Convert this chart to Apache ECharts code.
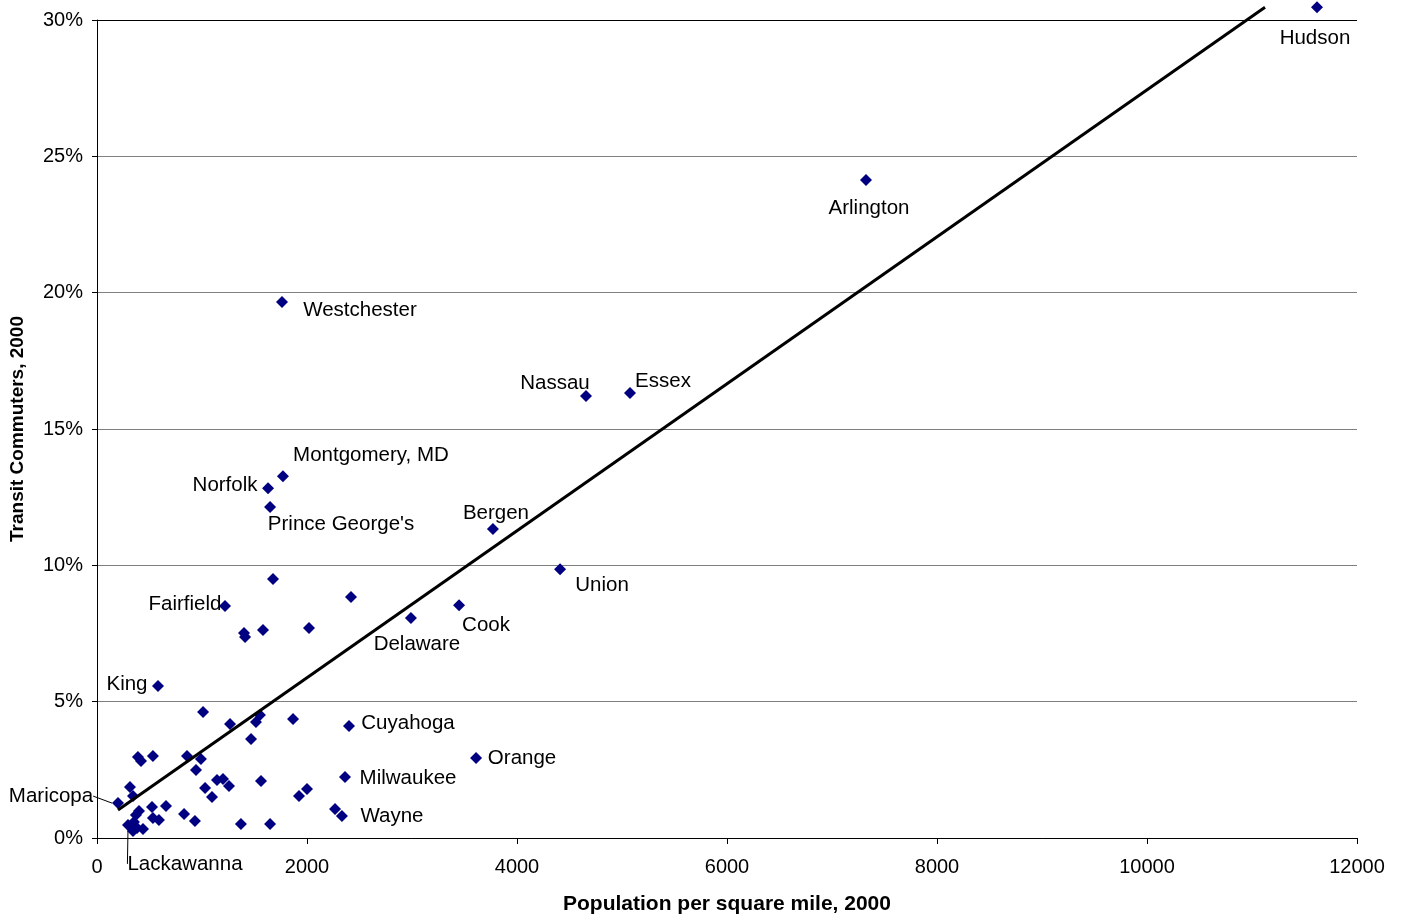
<!DOCTYPE html>
<html>
<head>
<meta charset="utf-8">
<script src="https://cdn.jsdelivr.net/npm/echarts@6/dist/echarts.min.js"></script>
<style>
html,body{margin:0;padding:0;background:#fff;}
#chart{width:1408px;height:922px;}
</style>
</head>
<body>
<div id="chart"></div>
<script>
// County names ('' = unlabeled point)
const names = [
  'Hudson','Arlington','Westchester','Nassau','Essex','Montgomery, MD','Norfolk',"Prince George's",
  'Bergen','Union','Fairfield','Cook','Delaware','King','Cuyahoga','Orange','Milwaukee','Wayne',
  'Maricopa','Lackawanna',
  '','','','','','','','','','','','','','','','','','','','','','','','','','','','','','','','','','','','','','','','','','',''
];
// Population per square mile, 2000
const density = [
  11619,7324,1762,4657,5076,1771,1629,1648,
  3771,4410,1219,3448,2990,581,2400,3610,2362,2333,
  200,295,
  1676,2419,1400,1410,1581,2019,1010,1267,1552,1514,1867,1467,390,419,533,857,990,943,
  314,343,1029,1095,1143,1200,1257,1562,1924,2000,2267,1371,1648,657,524,829,933,533,590,
  400,371,352,381,438,343
];
// Transit commuters, 2000 (percent)
const transit = [
  30.47,24.13,19.66,16.21,16.32,13.27,12.83,12.14,
  11.33,9.86,8.51,8.54,8.07,5.57,4.11,2.93,2.24,0.81,
  1.28,0.48,
  9.50,8.84,7.52,7.37,7.63,7.70,4.62,4.18,4.51,4.25,4.36,3.63,2.97,2.82,3.01,3.01,2.90,2.49,
  1.87,1.54,1.83,1.50,2.13,2.16,1.91,2.09,1.54,1.80,1.06,0.51,0.51,1.17,1.14,0.88,0.62,0.73,0.66,
  0.99,0.84,0.59,0.37,0.33,0.26
];
// Linear trend line end points
const trendX = [200, 11124];
const trendY = [1.03, 30.47];
// Axis ranges
const xRange = [0, 12000, 2000];
const yRange = [0, 30, 5];

// Label layout (style, not data)
const labelOffset = {
  'Hudson':[-2,31],'Arlington':[3,28],'Westchester':[78,8],'Nassau':[-31,-13],'Essex':[33,-12],
  'Montgomery, MD':[88,-21],'Norfolk':[-43,-3],"Prince George's":[71,17],'Bergen':[3,-16],
  'Union':[42,16],'Fairfield':[-40,-2],'Cook':[27,20],'Delaware':[6,26],'King':[-31,-2],
  'Cuyahoga':[59,-3],'Orange':[46,0],'Milwaukee':[63,1],'Wayne':[50,0]
};
const leaderOffset = {'Maricopa':[-67,-7],'Lackawanna':[57,39]};

const FONT = 'Liberation Sans, Arial, sans-serif';
const LABEL = {fontFamily: FONT, fontSize: 20.5, color: '#000', textBorderWidth: 0, opacity: 1};
const mainData = [], leaderData = [];
names.forEach((n, i) => {
  const item = {name: n, value: [density[i], transit[i]]};
  if (leaderOffset[n]) {
    leaderData.push(item);
  } else {
    if (labelOffset[n]) {
      item.label = Object.assign({show: true, position: 'inside', offset: labelOffset[n]}, LABEL);
    }
    mainData.push(item);
  }
});

const chart = echarts.init(document.getElementById('chart'));
chart.setOption({
  animation: false,
  backgroundColor: '#fff',
  grid: {left: 97, right: 51, top: 20, bottom: 84},
  xAxis: {
    type: 'value', min: xRange[0], max: xRange[1], interval: xRange[2],
    name: 'Population per square mile, 2000', nameLocation: 'middle', nameGap: 56,
    nameTextStyle: {fontFamily: FONT, fontSize: 21, fontWeight: 'bold', color: '#000'},
    axisLine: {show: true, onZero: false, lineStyle: {color: '#000', width: 1}},
    axisTick: {show: true, length: 6, lineStyle: {color: '#000'}},
    axisLabel: {fontFamily: FONT, fontSize: 20, color: '#000', margin: 19, formatter: v => String(v)},
    splitLine: {show: false}
  },
  yAxis: {
    type: 'value', min: yRange[0], max: yRange[1], interval: yRange[2],
    name: 'Transit Commuters, 2000', nameLocation: 'middle', nameGap: 70, nameRotate: 90,
    nameTextStyle: {fontFamily: FONT, fontSize: 19, fontWeight: 'bold', color: '#000', padding: [0, 0, 0, 0]},
    axisLine: {show: true, onZero: false, lineStyle: {color: '#000', width: 1}},
    axisTick: {show: true, length: 5, lineStyle: {color: '#000'}},
    axisLabel: {fontFamily: FONT, fontSize: 20, color: '#000', margin: 14, formatter: v => v + '%'},
    splitLine: {show: true, lineStyle: {color: ['#808080','#808080','#808080','#808080','#808080','#808080','#000'], width: 1}}
  },
  series: [
    {
      type: 'scatter', data: mainData, symbol: 'diamond', symbolSize: 12, clip: false, z: 2,
      itemStyle: {color: '#000080', opacity: 1},
      label: Object.assign({show: false, formatter: p => p.name}, LABEL)
    },
    {
      type: 'scatter', data: leaderData, symbol: 'diamond', symbolSize: 12, clip: false, z: 2,
      itemStyle: {color: '#000080', opacity: 1},
      label: Object.assign({show: true, position: 'inside', formatter: p => p.name}, LABEL),
      labelLayout: p => { const o = leaderOffset[leaderData[p.dataIndex].name]; return {dx: o[0], dy: o[1]}; },
      labelLine: {show: true, lineStyle: {color: '#000', width: 1, opacity: 1}}
    },
    {
      type: 'line', data: trendX.map((x, i) => [x, trendY[i]]), symbol: 'none', clip: false, z: 3,
      lineStyle: {color: '#000', width: 3}, silent: true,
      markLine: {
        silent: true, symbol: 'none', label: {show: false},
        lineStyle: {color: '#000', width: 1, type: 'solid'},
        data: [[{coord: [xRange[0], yRange[1]]}, {coord: [xRange[0], trendY[1] + 0.05]}]]
      }
    }
  ]
});
</script>
</body>
</html>
